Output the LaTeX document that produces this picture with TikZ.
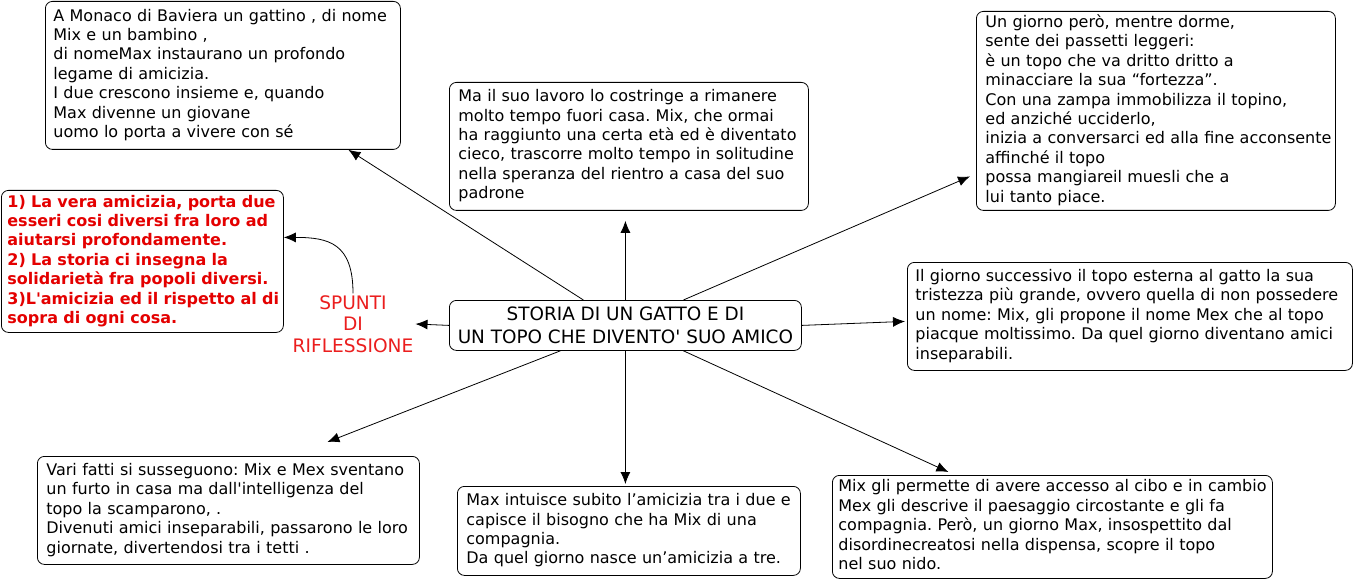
\documentclass[tikz,border=0pt]{standalone}
\usepackage{fontspec}
\setmainfont{DejaVu Sans}
\usetikzlibrary{arrows.meta}
\definecolor{boldred}{RGB}{228,0,0}
\definecolor{spred}{RGB}{235,30,30}
\newcommand{\fsn}{\fontsize{16}{19.4}\selectfont}
\newcommand{\fsc}{\fontsize{18.4}{23}\selectfont}
\newcommand{\fsr}{\fontsize{16}{19.4}\selectfont\bfseries}
\newcommand{\fss}{\fontsize{18.6}{21.5}\selectfont}
\newcommand{\q}{\textquotesingle}
\newcommand{\tx}[1]{\begin{tabular}{@{}l@{}}#1\end{tabular}}
\begin{document}
\frenchspacing
\begin{tikzpicture}[x=1pt,y=-1pt,
  box/.style={draw, line width=0.8pt, rounded corners=7pt, anchor=north west,
              align=left, inner ysep=0pt, font=\fsn},
  arr/.style={draw, line width=0.8pt, -{Latex[length=12pt,width=10pt]}}]
\useasboundingbox (0,0) rectangle (1354,580);
\fill[white] (0,0) rectangle (1354,580);

\node[box, inner xsep=8pt, text width=339pt, minimum height=148pt] (tl) at (45,1)
 {\tx{A Monaco di Baviera un gattino , di nome\\
  Mix e un bambino ,\\
  di nomeMax instaurano un profondo\\
  legame di amicizia.\\
  I due crescono insieme e, quando\\
  Max divenne un giovane\\
  uomo lo porta a vivere con sé}};

\node[box, inner xsep=9pt, text width=341pt, minimum height=128pt] (tm) at (449,82)
 {\tx{Ma il suo lavoro lo costringe a rimanere\\
  molto tempo fuori casa. Mix, che ormai\\
  ha raggiunto una certa età ed è diventato\\
  cieco, trascorre molto tempo in solitudine\\
  nella speranza del rientro a casa del suo\\
  padrone}};

\node[box, inner xsep=9pt, text width=341pt, minimum height=199pt] (tr) at (976,11)
 {\tx{Un giorno però, mentre dorme,\\
  sente dei passetti leggeri:\\
  è un topo che va dritto dritto a\\
  minacciare la sua “fortezza”.\\
  Con una zampa immobilizza il topino,\\
  ed anziché ucciderlo,\\
  inizia a conversarci ed alla fine acconsente\\
  affinché il topo\\
  possa mangiareil muesli che a\\
  lui tanto piace.}};

\node[box, inner xsep=6pt, text width=270pt, minimum height=142pt, font=\fsr, text=boldred] (rd) at (1,190)
 {\tx{1) La vera amicizia, porta due\\
  esseri cosi diversi fra loro ad\\
  aiutarsi profondamente.\\
  2) La storia ci insegna la\\
  solidarietà fra popoli diversi.\\
  3)L\q amicizia ed il rispetto al di\\
  sopra di ogni cosa.}};

\node[font=\fss, text=spred, align=center, inner sep=2pt] (sp) at (353,324)
 {SPUNTI\\DI\\RIFLESSIONE};

\node[box, align=center, font=\fsc, minimum width=352pt, minimum height=50pt, inner xsep=4pt] (c) at (449,300)
 {STORIA DI UN GATTO E DI\\UN TOPO CHE DIVENTO\q\ SUO AMICO};

\node[box, inner xsep=8pt, text width=429pt, minimum height=108pt] (rm) at (907,262)
 {\tx{Il giorno successivo il topo esterna al gatto la sua\\
  tristezza più grande, ovvero quella di non possedere\\
  un nome: Mix, gli propone il nome Mex che al topo\\
  piacque moltissimo. Da quel giorno diventano amici\\
  inseparabili.}};

\node[box, inner xsep=9pt, text width=364pt, minimum height=108pt] (bl) at (37,456)
 {\tx{Vari fatti si susseguono: Mix e Mex sventano\\
  un furto in casa ma dall\q intelligenza del\\
  topo la scamparono, .\\
  Divenuti amici inseparabili, passarono le loro\\
  giornate, divertendosi tra i tetti .}};

\node[box, inner xsep=9pt, text width=325pt, minimum height=89pt] (bm) at (457,486)
 {\tx{Max intuisce subito l’amicizia tra i due e\\
  capisce il bisogno che ha Mix di una\\
  compagnia.\\
  Da quel giorno nasce un’amicizia a tre.}};

\node[box, inner xsep=6pt, text width=428pt, minimum height=103pt] (br) at (832,475)
 {\tx{Mix gli permette di avere accesso al cibo e in cambio\\
  Mex gli descrive il paesaggio circostante e gli fa\\
  compagnia. Però, un giorno Max, insospettito dal\\
  disordinecreatosi nella dispensa, scopre il topo\\
  nel suo nido.}};

% connectors
\draw[arr] ([xshift=-42pt]c.north) -- ([xshift=125.5pt]tl.south);
\draw[arr] (c.north) -- ([xshift=-3.5pt,yshift=-10pt]tm.south);
\draw[arr] ([xshift=58pt]c.north) -- ([xshift=-6pt,yshift=-65.5pt]tr.west);
\draw[arr] (c.west) -- (sp.east);
\draw[arr] (sp.north) .. controls +(0,-50) and +(45,0) .. ([yshift=24pt]rd.east);
\draw[arr] (c.east) -- ([xshift=-2pt,yshift=-5pt]rm.west);
\draw[arr] ([xshift=-65pt]c.south) -- ([xshift=99pt,yshift=14pt]bl.north);
\draw[arr] (c.south) -- ([xshift=-3.5pt,yshift=2pt]bm.north);
\draw[arr] ([xshift=58pt]c.south) -- ([xshift=-104pt,yshift=3pt]br.north);
\end{tikzpicture}
\end{document}
